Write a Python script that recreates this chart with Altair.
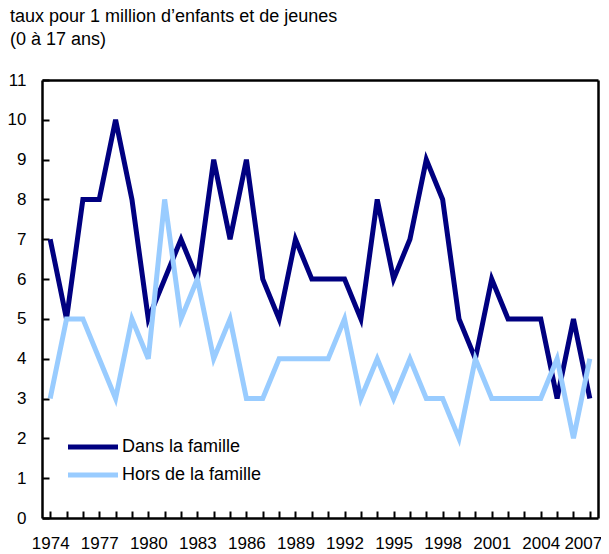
import altair as alt
import pandas as pd

years = list(range(1974, 2008))
dans = [7, 5, 8, 8, 10, 8, 5, 6, 7, 6, 9, 7, 9, 6, 5, 7, 6, 6, 6, 5, 8, 6, 7, 9, 8, 5, 4, 6, 5, 5, 5, 3, 5, 3]
hors = [3, 5, 5, 4, 3, 5, 4, 8, 5, 6, 4, 5, 3, 3, 4, 4, 4, 4, 5, 3, 4, 3, 4, 3, 3, 2, 4, 3, 3, 3, 3, 4, 2, 4]
series = ["Dans la famille", "Hors de la famille"]
colors = ["#000080", "#99CCFF"]
label_years = years[::3]
y_ticks = list(range(0, 12))
title_lines = ["taux pour 1 million d\u2019enfants et de jeunes", "(0 à 17 ans)"]

df = pd.concat([
    pd.DataFrame({"year": years, "value": dans, "serie": series[0]}),
    pd.DataFrame({"year": years, "value": hors, "serie": series[1]}),
])

W, H = 556, 438
FONT = "Liberation Sans"
yscale = alt.Scale(domain=[0, 11], nice=False)

base = alt.Chart(df)

last_label = alt.datum.value == years[-1]

lines = base.mark_line(strokeWidth=5, strokeJoin="miter").encode(
    x=alt.X("year:O", axis=alt.Axis(values=label_years, ticks=False, domain=True,
                                    domainColor="black", domainWidth=2.5, grid=False,
                                    labelAngle=0, labelPadding=17, title=None, orient="bottom",
                                    labelOffset=alt.condition(last_label, alt.value(-7), alt.value(0)),
                                    labelFontSize=17, labelFont=FONT, labelColor="black")),
    y=alt.Y("value:Q", scale=yscale,
            axis=alt.Axis(values=y_ticks, ticks=False, domain=True, domainColor="black",
                          domainWidth=2.5, grid=False, labelPadding=16,
                          title=None, labelFontSize=17, labelFont=FONT, labelColor="black")),
    color=alt.Color("serie:N", scale=alt.Scale(domain=series, range=colors),
                    legend=alt.Legend(title=None, orient="none", legendX=42, legendY=358,
                                      padding=0,
                                      symbolType="M-5,0H5", symbolSize=100, symbolStrokeWidth=5,
                                      symbolFillColor="transparent",
                                      rowPadding=8, labelFontSize=18, labelFont=FONT,
                                      labelColor="black", labelOffset=20)),
)

ticks = base.mark_line(opacity=0).encode(
    x=alt.X("year:O", axis=alt.Axis(values=years, orient="top", offset=-H, labels=False,
                                    domain=False, grid=False, tickSize=7, tickWidth=2,
                                    tickColor="black", title=None)),
    y=alt.Y("value:Q", scale=yscale,
            axis=alt.Axis(values=y_ticks, orient="right", offset=-W, labels=False,
                          domain=False, grid=False, tickSize=7, tickWidth=2,
                          tickColor="black", title=None)),
    detail="serie:N",
)

frame = base.mark_line(opacity=0).encode(
    x=alt.X("year:O", axis=alt.Axis(orient="top", labels=False, ticks=False, domain=True,
                                    domainColor="black", domainWidth=2.5, grid=False,
                                    title=None)),
    y=alt.Y("value:Q", scale=yscale,
            axis=alt.Axis(orient="right", labels=False, ticks=False, domain=True,
                          domainColor="black", domainWidth=2.5, grid=False, title=None)),
    detail="serie:N",
)

chart = alt.layer(lines, ticks, frame).resolve_axis(x="independent", y="independent").properties(
    width=W, height=H,
    autosize="none",
    background="white",
    padding={"left": 34, "top": 72, "right": 3, "bottom": 36},
    title=alt.TitleParams(text=title_lines, anchor="start", frame="group", dx=-32,
                          fontSize=18, font=FONT, fontWeight="normal", lineHeight=23,
                          offset=22, color="black"),
).configure_view(stroke=None)

chart.save("out.html", embed_options={"renderer": "svg", "actions": False})
